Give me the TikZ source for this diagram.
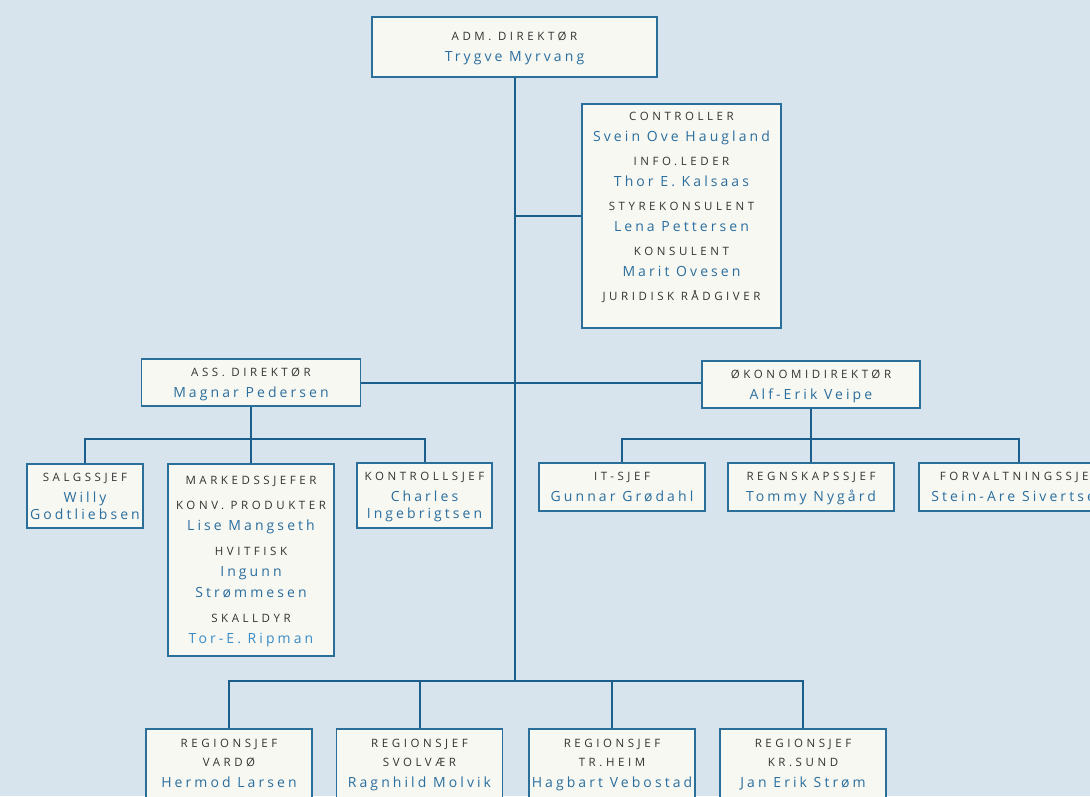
\documentclass[tikz,border=0pt]{standalone}
\usepackage{fontspec}
\setmainfont{Open Sans}
\newfontfamily\ttlfont[LetterSpace=31]{Open Sans}
\newfontfamily\nmfont[LetterSpace=22]{Open Sans}
\usepackage{xcolor}
\definecolor{bg}{HTML}{D7E4EE}
\definecolor{boxfill}{HTML}{F8F8F2}
\definecolor{boxline}{HTML}{2A6E9A}
\definecolor{linkblue}{HTML}{1B5E8C}
\definecolor{ttlgray}{HTML}{333333}
\definecolor{nmblue}{HTML}{2B6E9E}
\definecolor{nmlight}{HTML}{3A8CC6}
\usetikzlibrary{positioning}
\newcommand{\ttl}[1]{{\ttlfont\fontsize{11.5}{21}\selectfont\color{ttlgray}\strut#1}}
\newcommand{\nm}[1]{{\nmfont\fontsize{14}{21}\selectfont\color{nmblue}\strut#1}}

\begin{document}
\begin{tikzpicture}
[x=1pt, y=-1pt,
 box/.style={draw=boxline, line width=1.2pt, fill=boxfill, align=center,
 inner sep=0pt, font=\fontsize{11}{21}\selectfont},
 link/.style={draw=linkblue, line width=2pt},
]
\useasboundingbox (0,0) rectangle (1090,796);
\fill[bg] (0,0) rectangle (1090,796);
\clip (0,0) rectangle (1090,796);

% top level
\node[box, minimum width=285pt, minimum height=60pt] (adm) at (514.5,47)
  {\ttl{ADM. DIREKTØR}\\\nm{Trygve Myrvang}};
\node[box, minimum width=199pt, minimum height=224pt] (ctrl) at (681.5,216)
  {\ttl{CONTROLLER}\\\nm{Svein Ove Haugland}\\[3pt]
   \ttl{INFO.LEDER}\\\nm{Thor E. Kalsaas}\\[3pt]
   \ttl{STYREKONSULENT}\\\nm{Lena Pettersen}\\[3pt]
   \ttl{KONSULENT}\\\nm{Marit Ovesen}\\[3pt]
   \ttl{JURIDISK RÅDGIVER}\\[5pt]\mbox{}};
\node[box, minimum width=219pt, minimum height=47pt] (ass) at (251,382.5)
  {\ttl{ASS. DIREKTØR}\\\nm{Magnar Pedersen}};
\node[box, minimum width=218pt, minimum height=47pt] (oko) at (811,384.5)
  {\ttl{ØKONOMIDIREKTØR}\\\nm{Alf-Erik Veipe}};

% left branch
\node[box, minimum width=116pt, minimum height=64pt] (salg) at (85,496)
  {\ttl{SALGSSJEF}\\\nm{Willy}\\[-4pt]\nm{Godtliebsen}};
\node[box, minimum width=166pt, minimum height=192pt] (mark) at (251,560)
  {\ttl{MARKEDSSJEFER}\\[4pt]
   \ttl{KONV. PRODUKTER}\\\nm{Lise Mangseth}\\[4pt]
   \ttl{HVITFISK}\\\nm{Ingunn}\\\nm{Strømmesen}\\[4pt]
   \ttl{SKALLDYR}\\\nm{\color{nmlight}Tor-E. Ripman}};
\node[box, minimum width=135pt, minimum height=65pt] (kontr) at (424.5,495.5)
  {\ttl{KONTROLLSJEF}\\\nm{Charles}\\[-4pt]\nm{Ingebrigtsen}};

% right branch
\node[box, minimum width=166pt, minimum height=48pt] (it) at (622,487)
  {\ttl{IT-SJEF}\\\nm{Gunnar Grødahl}};
\node[box, minimum width=166pt, minimum height=48pt] (regn) at (811,487)
  {\ttl{REGNSKAPSSJEF}\\\nm{Tommy Nygård}};
\node[box, minimum width=200pt, minimum height=48pt] (forv) at (1019,487)
  {\ttl{FORVALTNINGSSJEF}\\\nm{Stein-Are Sivertsen}};

% regions
\node[box, minimum width=166pt, minimum height=69pt] (vardo) at (229,763.5)
  {\ttl{REGIONSJEF}\\[-2pt]\ttl{VARDØ}\\\nm{Hermod Larsen}};
\node[box, minimum width=166pt, minimum height=69pt] (svol) at (419.5,763.5)
  {\ttl{REGIONSJEF}\\[-2pt]\ttl{SVOLVÆR}\\\nm{Ragnhild Molvik}};
\node[box, minimum width=166pt, minimum height=69pt] (trh) at (612,763.5)
  {\ttl{REGIONSJEF}\\[-2pt]\ttl{TR.HEIM}\\\nm{Hagbart Vebostad}};
\node[box, minimum width=166pt, minimum height=69pt] (krs) at (803,763.5)
  {\ttl{REGIONSJEF}\\[-2pt]\ttl{KR.SUND}\\\nm{Jan Erik Strøm}};

\coordinate (rbus) at (514.5,681);
\coordinate (lbus) at (251,439);
\coordinate (obus) at (811,439);

\draw[link] (adm.south) -- (rbus);
\draw[link] (adm.south |- ctrl.west) -- (ctrl.west);
\draw[link] (ass.east) -- (ass.east -| oko.west);

\draw[link] (ass.south) -- (mark.north);
\draw[link] (salg.north) |- (lbus);
\draw[link] (kontr.north) |- (lbus);

\draw[link] (oko.south) -- (regn.north);
\draw[link] (it.north) |- (obus);
\draw[link] (forv.north) |- (obus);

\draw[link] (vardo.north) |- (rbus);
\draw[link] (svol.north) |- (rbus);
\draw[link] (trh.north) |- (rbus);
\draw[link] (krs.north) |- (rbus);
\end{tikzpicture}
\end{document}
